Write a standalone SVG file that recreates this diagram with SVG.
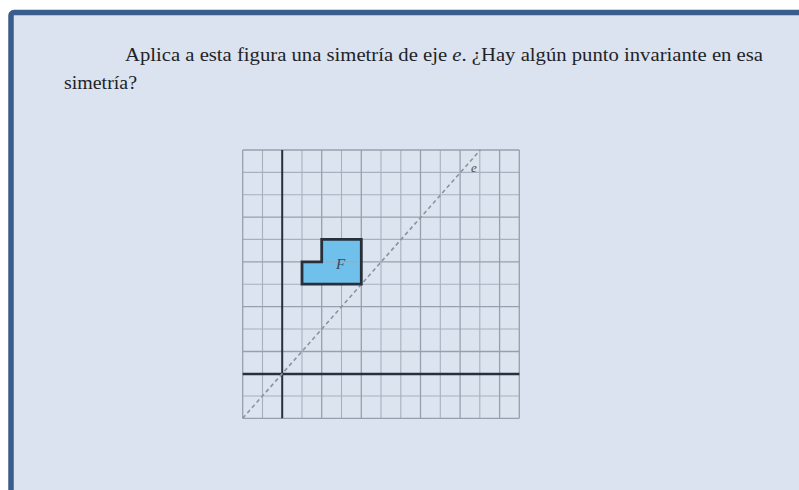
<svg xmlns="http://www.w3.org/2000/svg" width="799" height="490" viewBox="0 0 799 490">
  <defs>
    <style>
      .txt { font-family: "Liberation Serif", "Times New Roman", serif; font-size: 19.5px; fill: #1f2328; }
      .g { stroke: #a7b1bd; stroke-width: 1.1; }
      .gd { stroke: #97a1ad; stroke-width: 1.3; }
      .axis { stroke: #26313d; }
    </style>
  </defs>
  <rect x="0" y="0" width="799" height="490" fill="#ffffff"/>
  <rect id="frame" x="11" y="12.5" width="820" height="520" rx="3" fill="#dae3ef" stroke="#3a5d8b" stroke-width="5.5"/>

  <g id="question">
    <text class="txt" x="125" y="61" textLength="638" lengthAdjust="spacingAndGlyphs">Aplica a esta figura una simetría de eje <tspan font-style="italic">e</tspan>. ¿Hay algún punto invariante en esa</text>
    <text class="txt" x="64" y="89" textLength="73" lengthAdjust="spacingAndGlyphs">simetría?</text>
  </g>

  <g id="grid">
    <rect x="242.7" y="150" width="276.6" height="268.3" fill="#dbe4ef"/>
    <g class="g">
      <line x1="262.5" y1="150" x2="262.5" y2="418.3"/>
      <line x1="302" y1="150" x2="302" y2="418.3"/>
      <line x1="341.5" y1="150" x2="341.5" y2="418.3"/>
      <line x1="381" y1="150" x2="381" y2="418.3"/>
      <line x1="400.8" y1="150" x2="400.8" y2="418.3"/>
      <line x1="440.3" y1="150" x2="440.3" y2="418.3"/>
      <line x1="479.8" y1="150" x2="479.8" y2="418.3"/>
      <line x1="242.7" y1="172.4" x2="519.3" y2="172.4"/>
      <line x1="242.7" y1="194.7" x2="519.3" y2="194.7"/>
      <line x1="242.7" y1="239.4" x2="519.3" y2="239.4"/>
      <line x1="242.7" y1="284.2" x2="519.3" y2="284.2"/>
      <line x1="242.7" y1="329" x2="519.3" y2="329"/>
      <line x1="242.7" y1="396" x2="519.3" y2="396"/>
    </g>
    <g class="gd">
      <line x1="242.7" y1="150" x2="242.7" y2="418.3"/>
      <line x1="321.7" y1="150" x2="321.7" y2="418.3"/>
      <line x1="361.3" y1="150" x2="361.3" y2="418.3"/>
      <line x1="420.5" y1="150" x2="420.5" y2="418.3"/>
      <line x1="460.1" y1="150" x2="460.1" y2="418.3"/>
      <line x1="499.6" y1="150" x2="499.6" y2="418.3"/>
      <line x1="519.3" y1="150" x2="519.3" y2="418.3"/>
      <line x1="242.7" y1="150" x2="519.3" y2="150"/>
      <line x1="242.7" y1="217.1" x2="519.3" y2="217.1"/>
      <line x1="242.7" y1="261.8" x2="519.3" y2="261.8"/>
      <line x1="242.7" y1="306.6" x2="519.3" y2="306.6"/>
      <line x1="242.7" y1="351.5" x2="519.3" y2="351.5"/>
      <line x1="242.7" y1="418.3" x2="519.3" y2="418.3"/>
    </g>
  </g>

  <g id="axes">
    <line class="axis" x1="282.2" y1="150" x2="282.2" y2="418.3" stroke-width="2"/>
    <line class="axis" x1="242.7" y1="374" x2="519.3" y2="374" stroke-width="2.6"/>
  </g>

  <g id="axis-e">
    <line x1="242.7" y1="418.3" x2="480.3" y2="150" stroke="#8a949f" stroke-width="1.6" stroke-dasharray="4 3"/>
    <text x="471" y="172" font-family="Liberation Serif, serif" font-style="italic" font-size="13" fill="#5a4b3e">e</text>
  </g>

  <g id="figure-F">
    <path d="M321.7 239.4 H361.3 V284.2 H302 V261.8 H321.7 Z" fill="#6fc0ea" stroke="#262f3a" stroke-width="2.8" stroke-linejoin="miter"/>
    <line x1="323" y1="261.8" x2="360" y2="261.8" stroke="#c79a9e" stroke-width="0.9"/>
    <text x="336" y="269" font-family="Liberation Serif, serif" font-style="italic" font-size="15" fill="#3a4a5c">F</text>
  </g>
</svg>
